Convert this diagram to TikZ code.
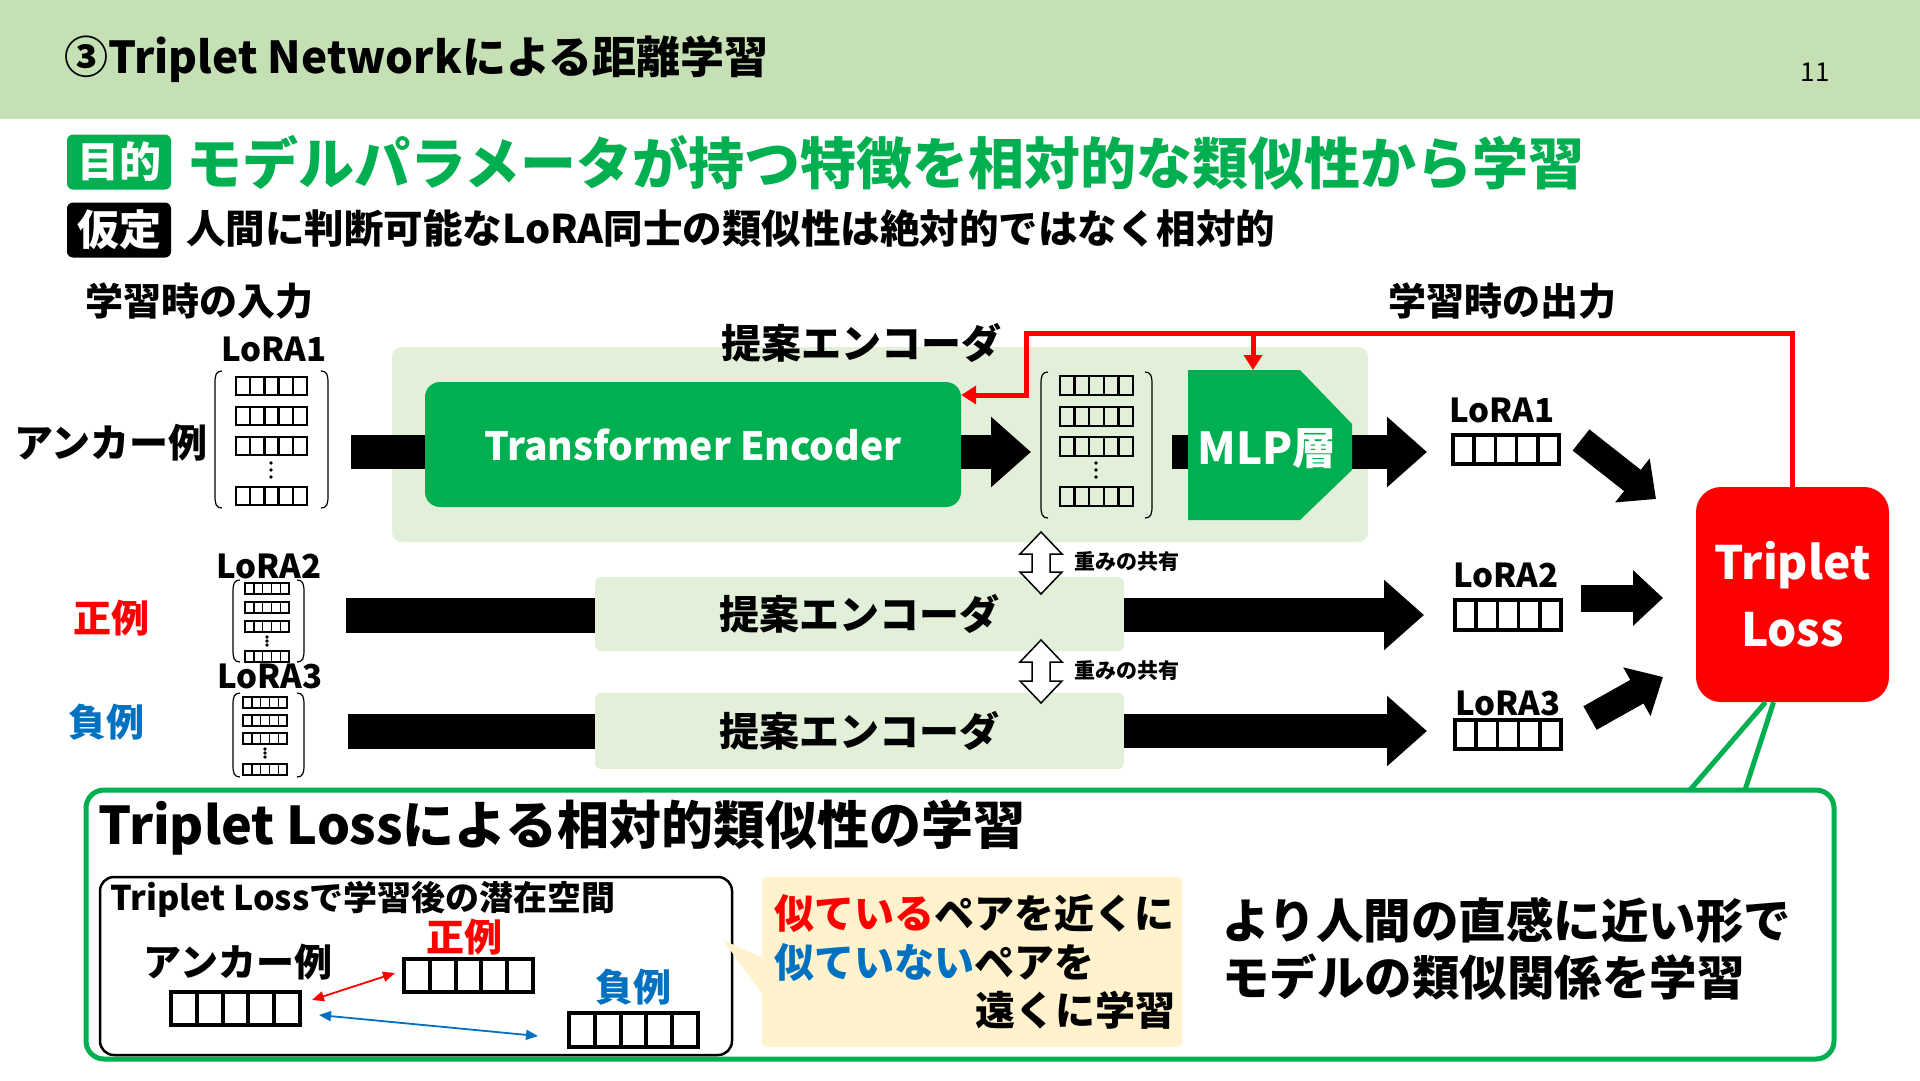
\documentclass[tikz,border=0pt]{standalone}
\usepackage{fontspec}
\setmainfont{Noto Sans CJK JP}
\usetikzlibrary{arrows.meta}
\definecolor{hdr}{HTML}{C5E0B4}
\definecolor{grn}{HTML}{00B050}
\definecolor{lgr}{HTML}{E2F0D9}
\definecolor{rd}{HTML}{FF0000}
\definecolor{blu}{HTML}{0070C0}
\definecolor{ylw}{HTML}{FFF2CC}
\newcommand{\fsz}[1]{\fontsize{#1}{#1}\selectfont\bfseries}
\newcommand{\cellrow}[5]{\foreach \ci in {0,...,4}{\draw[line width=#5] ({#1+\ci*#3},#2) rectangle ++(#3,#4);}}
\newcommand{\dotsv}[3]{\foreach \di in {-1,0,1}{\fill ({#1},{#2+\di*#3}) circle[radius=1.8pt];}}
\newcommand{\brk}[4]{%
  \draw[line width=1.2pt] ({#1+7},#2) .. controls ({#1+1},#2) and (#1,{#2+4}) .. (#1,{#2+12}) -- (#1,{#4-12}) .. controls (#1,{#4-4}) and ({#1+1},#4) .. ({#1+7},#4);
  \draw[line width=1.2pt] ({#3-7},#2) .. controls ({#3-1},#2) and (#3,{#2+4}) .. (#3,{#2+12}) -- (#3,{#4-12}) .. controls (#3,{#4-4}) and ({#3-1},#4) .. ({#3-7},#4);}
\newcommand{\dblarrow}[3]{%
  \draw[fill=white,line width=1.5pt,line join=miter] (#1,#2) -- ({#1+21},{#2+22}) -- ({#1+9},{#2+22}) -- ({#1+9},{#3-22}) -- ({#1+21},{#3-22}) -- (#1,#3) -- ({#1-21},{#3-22}) -- ({#1-9},{#3-22}) -- ({#1-9},{#2+22}) -- ({#1-21},{#2+22}) -- cycle;}
\begin{document}
\begin{tikzpicture}[x=1pt,y=-1pt,
  lbl/.style={inner sep=0pt,font=\fsz{#1}},
  bigarrow/.style={line width=34pt,-{Triangle[length=40pt,width=68pt]}},
  smallarr/.style={line width=27pt,-{Triangle[length=30pt,width=54pt]}},
  redln/.style={draw=rd,line width=5pt},
  redtip/.style={-{Triangle[length=15pt,width=18pt]}},
  tag/.style={minimum width=104pt,minimum height=55pt,rounded corners=6pt,text=white,font=\fsz{42},inner sep=0pt},
  encbox/.style={fill=lgr,rounded corners=6pt,minimum width=529pt,inner sep=0pt,font=\fsz{40}}]
\useasboundingbox (0,0) rectangle (1920,1080);
\fill[white] (0,0) rectangle (1920,1080);
% header
\fill[hdr] (0,0) rectangle (1920,119);
\node[lbl=44,anchor=west] (title) at (64,59) {③Triplet Networkによる距離学習};
\node[inner sep=0pt,font=\fontsize{26}{26}\selectfont] (pg) at (1815,72) {11};
% purpose / assumption
\node[tag,fill=grn] (mokuteki) at (119,162) {目的};
\node[lbl=56,text=grn,anchor=west] (goal) at (186,163) {モデルパラメータが持つ特徴を相対的な類似性から学習};
\node[tag,fill=black] (katei) at (119,230) {仮定};
\node[lbl=39.5,anchor=west] (assume) at (186,229) {人間に判断可能なLoRA同士の類似性は絶対的ではなく相対的};
% headings
\node[lbl=38] (inlbl) at (199,301) {学習時の入力};
\node[lbl=38] (outlbl) at (1502,301) {学習時の出力};
% encoder panel
\fill[lgr,rounded corners=10pt] (392,347) rectangle (1368,542);
\node[lbl=40] (enclbl) at (861,343) {提案エンコーダ};
% inputs
\node[lbl=39] (anchorlbl) at (111,443) {アンカー例};
\node[lbl=38,text=rd] (poslbl) at (111,618) {正例};
\node[lbl=38,text=blu] (neglbl) at (106,722) {負例};
\node[lbl=33] (in1) at (274,349) {LoRA1};
\node[lbl=33] (in2) at (269,566) {LoRA2};
\node[lbl=33] (in3) at (270,676) {LoRA3};
\brk{215}{371}{328}{508}
\cellrow{236}{377}{14.2}{18}{2.4pt}
\cellrow{236}{407}{14.2}{18}{2.4pt}
\cellrow{236}{437}{14.2}{18}{2.4pt}
\dotsv{271}{470}{7}
\cellrow{236}{487}{14.2}{18}{2.4pt}
\brk{233}{580}{304}{662}
\cellrow{245}{583}{8.8}{11}{1.4pt}
\cellrow{245}{602}{8.8}{11}{1.4pt}
\cellrow{245}{621}{8.8}{11}{1.4pt}
\dotsv{267}{641}{4}
\cellrow{245}{651}{8.8}{11}{1.4pt}
\brk{233}{693}{304}{777}
\cellrow{243}{697}{8.8}{11}{1.4pt}
\cellrow{243}{715}{8.8}{11}{1.4pt}
\cellrow{243}{733}{8.8}{11}{1.4pt}
\dotsv{265}{753}{4}
\cellrow{243}{764}{8.8}{11}{1.4pt}
% row 1
\coordinate (bar1) at (351,452);
\draw[line width=34pt] (bar1) -- (440,452);
\node[fill=grn,rounded corners=15pt,minimum width=536pt,minimum height=125pt,inner sep=0pt,text=white,font=\fsz{39}] (tenc) at (693,444.5) {Transformer Encoder};
\coordinate (m1in) at (1031,452);
\draw[bigarrow] (tenc.east |- m1in) -- (m1in);
\brk{1041}{372}{1152}{518}
\cellrow{1060}{376}{14.6}{19}{2.4pt}
\cellrow{1060}{407}{14.6}{19}{2.4pt}
\cellrow{1060}{437}{14.6}{19}{2.4pt}
\dotsv{1096}{470}{7}
\cellrow{1060}{487}{14.6}{19}{2.4pt}
\coordinate (mlpin) at (1172,452);
\coordinate (o1in) at (1427,452);
\draw[bigarrow] (mlpin) -- (o1in);
\fill[grn] (1188,370) -- (1300,370) -- (1352,424) -- (1352,470) -- (1300,520) -- (1188,520) -- cycle;
\node[lbl=44,text=white] (mlp) at (1267,449) {MLP層};
% rows 2 and 3
\node[encbox,minimum height=74pt] (enc2) at (859.5,614) {提案エンコーダ};
\node[encbox,minimum height=76pt] (enc3) at (859.5,731) {提案エンコーダ};
\coordinate (bar2) at (346,615);
\coordinate (bar3) at (348,731);
\draw[line width=35pt] (bar2) -- (enc2.west |- bar2);
\draw[line width=35pt] (bar3) -- (enc3.west |- bar3);
\coordinate (o2in) at (1424,615);
\coordinate (o3in) at (1427,731);
\draw[bigarrow] (enc2.east |- o2in) -- (o2in);
\draw[bigarrow] (enc3.east |- o3in) -- (o3in);
\dblarrow{1041}{532}{594}
\dblarrow{1041}{640}{703}
\node[lbl=21] (share1) at (1127,562) {重みの共有};
\node[lbl=21] (share2) at (1127,671) {重みの共有};
% outputs
\node[lbl=33] (out1) at (1502,410) {LoRA1};
\node[lbl=33] (out2) at (1506,575) {LoRA2};
\node[lbl=33] (out3) at (1508,703) {LoRA3};
\cellrow{1453}{435}{21.2}{29}{3.5pt}
\cellrow{1455}{600}{21.2}{30}{3.5pt}
\cellrow{1455}{720}{21.2}{29}{3.5pt}
% triplet loss
\node[fill=rd,rounded corners=25pt,minimum width=193pt,minimum height=215pt,inner sep=0pt,text=white,font=\fontsize{46}{67}\selectfont\bfseries,align=center] (tl) at (1792.5,594.5) {Triplet\\Loss};
\coordinate (a1s) at (1581,440); \coordinate (a1e) at (1656,499);
\coordinate (a2s) at (1581,598); \coordinate (a2e) at (1663,598);
\coordinate (a3s) at (1590,718); \coordinate (a3e) at (1663,677);
\draw[smallarr] (a1s) -- (a1e);
\draw[smallarr] (a2s) -- (a2e);
\draw[smallarr] (a3s) -- (a3e);
% red feedback
\coordinate (rc1) at (1792.5,333);
\coordinate (rc2) at (1026,333);
\coordinate (rc3) at (1026,395);
\coordinate (rb) at (1253,333);
\coordinate (mlptop) at (1253,370);
\draw[redln,redtip,line join=miter] (tl.north) -- (rc1) -- (rc2) -- (rc3) -- (tenc.east |- rc3);
\draw[redln,redtip] (rb) -- (mlptop);
% bottom panel
\draw[grn,line width=5pt] ([xshift=-27pt]tl.south) -- (1690,790);
\draw[grn,line width=5pt] ([xshift=-19pt]tl.south) -- (1745,790);
\draw[grn,line width=5pt,fill=white,rounded corners=18pt] (86,790) rectangle (1834,1059);
\node[lbl=52,anchor=west] (btitle) at (98,827) {Triplet Lossによる相対的類似性の学習};
\draw[line width=2.5pt,rounded corners=14pt] (100,877) rectangle (732,1055);
\node[lbl=34,anchor=west] (lattitle) at (110,899) {Triplet Lossで学習後の潜在空間};
\node[lbl=38] (anc) at (238,962) {アンカー例};
\node[lbl=38,text=rd] (pos) at (464,937) {正例};
\node[lbl=38,text=blu] (neg) at (633,987) {負例};
\cellrow{171}{992}{25.8}{33}{4pt}
\cellrow{404}{959}{25.8}{33}{4pt}
\cellrow{569}{1013}{25.8}{34}{4pt}
\coordinate (ra) at (312,1000); \coordinate (rp) at (395,973);
\coordinate (ba) at (319,1015); \coordinate (bn) at (538,1036);
\draw[rd,line width=1.8pt,{Triangle[length=12pt,width=10pt]}-{Triangle[length=12pt,width=10pt]}] (ra) -- (rp);
\draw[blu,line width=1.8pt,{Triangle[length=12pt,width=10pt]}-{Triangle[length=12pt,width=10pt]}] (ba) -- (bn);
% callout
\fill[ylw] (723,940) -- (763,958) -- (763,995) -- cycle;
\fill[ylw,rounded corners=4pt] (762,877) rectangle (1182,1047);
\node[lbl=40,anchor=west] (c1) at (774,913) {\textcolor{rd}{似ている}ペアを近くに};
\node[lbl=40,anchor=west] (c2) at (774,963) {\textcolor{blu}{似ていない}ペアを};
\node[lbl=40,anchor=east] (c3) at (1176,1010) {遠くに学習};
\node[lbl=47.5,anchor=west] (r1) at (1222,920) {より人間の直感に近い形で};
\node[lbl=47.5,anchor=west] (r2) at (1222,977) {モデルの類似関係を学習};
\end{tikzpicture}
\end{document}
